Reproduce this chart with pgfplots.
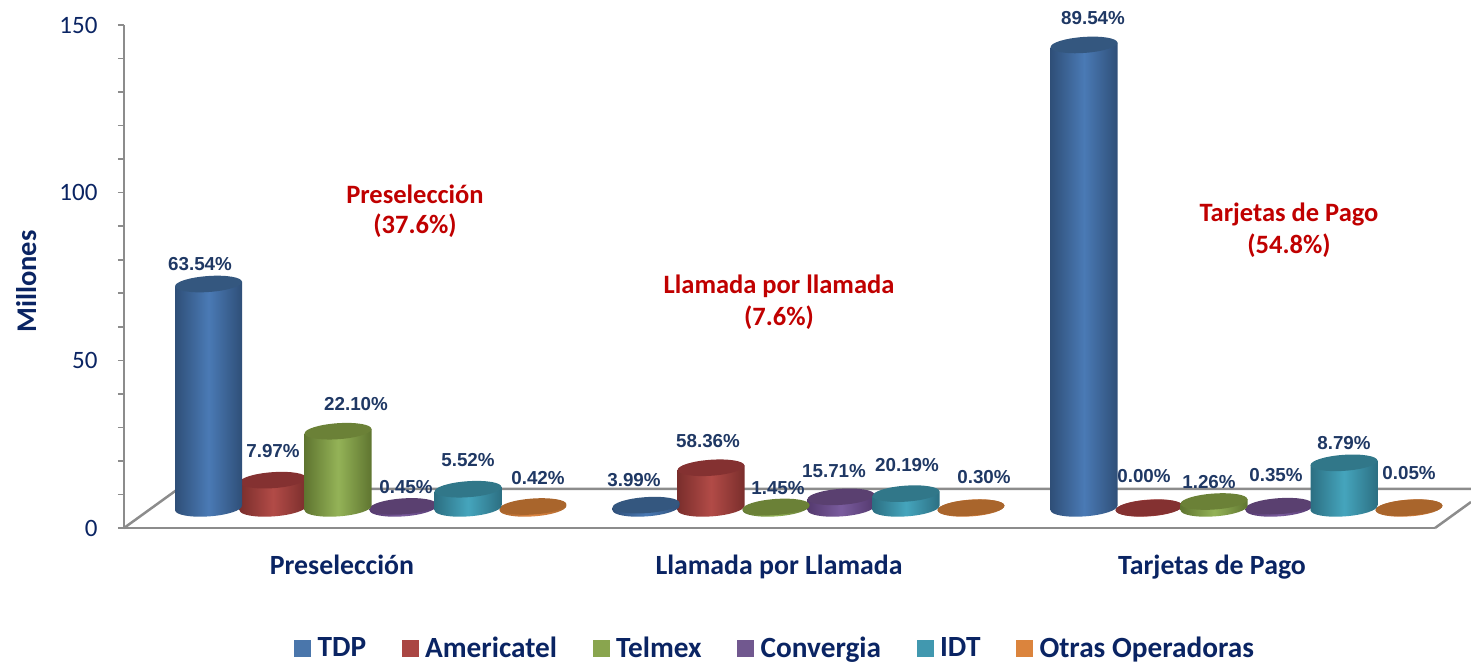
\documentclass[border=0pt]{standalone}
\usepackage{fontspec}
\setmainfont{Carlito}
\newfontfamily\arialf{Liberation Sans}
\usepackage{pgfplots}
\pgfplotsset{compat=1.18}
\definecolor{navytxt}{HTML}{0A2463}
\definecolor{lbltxt}{HTML}{1F3864}
\definecolor{redtxt}{HTML}{C00000}
\definecolor{axgray}{HTML}{8C8C8C}
\definecolor{legTDP}{HTML}{4A76AB}
\definecolor{legAME}{HTML}{AA4643}
\definecolor{legTEL}{HTML}{89A54E}
\definecolor{legCON}{HTML}{71588F}
\definecolor{legIDT}{HTML}{4198AF}
\definecolor{legOTR}{HTML}{DB843D}
% name, edge, mid, cap
\newcommand\defcyl[4]{%
  \definecolor{edge#1}{HTML}{#2}\definecolor{mid#1}{HTML}{#3}\definecolor{cap#1}{HTML}{#4}%
  \pgfdeclarehorizontalshading{shade#1}{100bp}{color(0bp)=(edge#1);color(25bp)=(edge#1);color(50bp)=(mid#1);color(75bp)=(edge#1);color(100bp)=(edge#1)}%
  \pgfdeclareplotmark{cap#1}{\pgfsetfillcolor{cap#1}\pgftransformrotate{4}\pgfpathellipse{\pgfpointorigin}{\pgfqpoint{33.5pt}{0pt}}{\pgfqpoint{0pt}{8pt}}\pgfusepathqfill}%
  \pgfdeclareplotmark{base#1}{\pgftransformrotate{4}\pgfpathellipse{\pgfpointorigin}{\pgfqpoint{33.5pt}{0pt}}{\pgfqpoint{0pt}{8.4pt}}\pgfshadepath{shade#1}{0}\pgfusepath{discard}}%
}
\defcyl{TDP}{2F4F78}{4A7AB5}{34577F}
\defcyl{AME}{7A2E2C}{B24B47}{843131}
\defcyl{TEL}{5F7530}{94B357}{6B8137}
\defcyl{CON}{54396E}{7A5C9E}{5A4070}
\defcyl{IDT}{2C6F82}{45A5BD}{317789}
\defcyl{OTR}{A9652C}{DE8642}{A9652C}
% series name, x position, value
\newcommand\cyl[3]{%
  \pgfmathsetmacro\xl{#2-33.5}\pgfmathsetmacro\xr{#2+33.5}%
  \pgfmathsetmacro\yl{#3-0.7}\pgfmathsetmacro\yr{#3+0.7}%
  \addplot[only marks,mark=base#1,forget plot] coordinates {(#2,0)};
  \addplot[forget plot,draw=none,mark=none,left color=edge#1,right color=edge#1,middle color=mid#1] coordinates {(\xl,-0.7)(\xl,\yl)(\xr,\yr)(\xr,0.7)} --cycle;
  \addplot[only marks,mark=cap#1,forget plot] coordinates {(#2,#3)};
}
\newcommand\lab[3]{\node[font=\arialf\bfseries\fontsize{18.8}{22}\selectfont,text=lbltxt,inner sep=0pt] at (#1pt,{(663-#2)*1pt}) {#3};}
\newcommand\ann[3]{\node[font=\bfseries\fontsize{26.5}{30}\selectfont,text=redtxt,inner sep=0pt] at (#1pt,{(663-#2)*1pt}) {#3};}
\begin{document}
\begin{tikzpicture}
\useasboundingbox (0pt,0pt) rectangle (1471pt,663pt);
% vertical value axis
\begin{axis}[
  at={(124pt,135pt)},anchor=south west,scale only axis,
  width=1311pt,height=503pt,
  xmin=0,xmax=1,ymin=0,ymax=150,
  axis y line*=left,
  axis x line=none,
  ytick={0,50,100,150},minor y tick num=4,
  tick align=outside,
  major tick length=6pt,minor tick length=6pt,
  every tick/.style={axgray,line width=1.6pt},
  minor tick style={axgray,line width=1.6pt},
  axis line style={axgray,line width=2.5pt,-},
  /pgf/number format/assume math mode=true,
  yticklabel style={font=\fontsize{25}{28}\selectfont,text=navytxt,xshift=-17pt},
  ylabel={\textbf{Millones}},
  ylabel style={font=\fontsize{28.5}{32}\selectfont,text=navytxt,at={(axis description cs:-0.0745,0.49)},anchor=center},
]
\addplot[draw=none] coordinates {(0,0)};
\end{axis}
% floor and cylinders
\begin{axis}[
  at={(124pt,135pt)},anchor=south west,scale only axis,
  width=1311pt,height=503pt,
  xmin=124,xmax=1435,ymin=-5.965,ymax=144.05,
  clip=false,clip mode=individual,
  axis x line*=bottom,
  axis y line=none,
  axis line style={axgray,line width=2.5pt,-},
  xtick={342,779,1212},
  xticklabels={Preselección,Llamada por Llamada,Tarjetas de Pago},
  xtick style={draw=none},
  xticklabel style={font=\bfseries\fontsize{27.8}{32}\selectfont,text=navytxt,anchor=center,text height=20pt,text depth=6pt,yshift=-39pt},
  legend style={at={(0.4966,-0.2386)},anchor=center,draw=none,fill=none,legend columns=-1,
    font=\bfseries\fontsize{29.3}{33}\selectfont,text=navytxt,
    /tikz/every odd column/.append style={column sep=5pt},
    /tikz/every even column/.append style={column sep=33.6pt}},
  legend image code/.code={\fill[#1] (0pt,-8pt) rectangle (16pt,8pt);},
]
\addplot[axgray,line width=2.5pt,forget plot] coordinates {(124,-5.965)(178,5.67)(1471,5.67)};
\addplot[axgray,line width=2.5pt,forget plot] coordinates {(1435,-5.965)(1471,1.79)};
% Otras Operadoras
\cyl{OTR}{533}{0.44}\cyl{OTR}{971}{0.06}\cyl{OTR}{1409}{0.08}
% Convergia
\cyl{CON}{403}{0.47}\cyl{CON}{841}{3.33}\cyl{CON}{1279}{0.54}
% IDT
\cyl{IDT}{468}{5.6}\cyl{IDT}{906}{4.28}\cyl{IDT}{1344}{13.47}
% Americatel
\cyl{AME}{273}{8.3}\cyl{AME}{711}{12.0}\cyl{AME}{1149}{0}
% Telmex
\cyl{TEL}{338}{22.9}\cyl{TEL}{776}{0.31}\cyl{TEL}{1214}{1.93}
% TDP
\cyl{TDP}{208.5}{66.8}\cyl{TDP}{646}{0.85}\cyl{TDP}{1084}{138.1}
\addlegendimage{legTDP}\addlegendentry{TDP}
\addlegendimage{legAME}\addlegendentry{Americatel}
\addlegendimage{legTEL}\addlegendentry{Telmex}
\addlegendimage{legCON}\addlegendentry{Convergia}
\addlegendimage{legIDT}\addlegendentry{IDT}
\addlegendimage{legOTR}\addlegendentry{Otras Operadoras}
\end{axis}
\lab{200}{264}{63.54\%}\lab{273}{451}{7.97\%}\lab{356}{404}{22.10\%}\lab{406}{487}{0.45\%}\lab{468}{460}{5.52\%}\lab{538}{478}{0.42\%}
\lab{634}{480}{3.99\%}\lab{708}{441}{58.36\%}\lab{778}{488}{1.45\%}\lab{834}{471}{15.71\%}\lab{907}{465}{20.19\%}\lab{984}{477}{0.30\%}
\lab{1093}{18}{89.54\%}\lab{1144}{476}{0.00\%}\lab{1209}{482}{1.26\%}\lab{1276}{475}{0.35\%}\lab{1344}{443}{8.79\%}\lab{1409}{473}{0.05\%}
\ann{415}{194}{Preselección}\ann{415}{226}{(37.6\%)}
\ann{779}{286}{Llamada por llamada}\ann{779}{318}{(7.6\%)}
\ann{1289}{214}{Tarjetas de Pago}\ann{1289}{246}{(54.8\%)}
\end{tikzpicture}
\end{document}
